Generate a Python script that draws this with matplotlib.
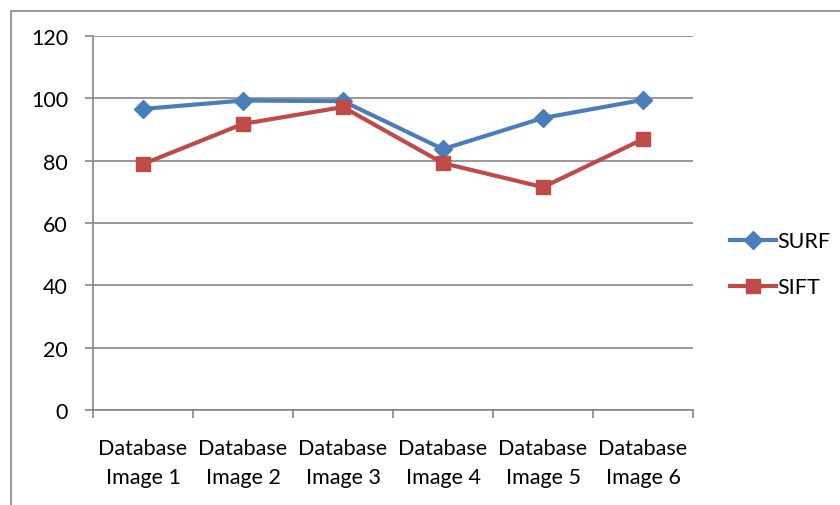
import matplotlib.pyplot as plt
from matplotlib.patches import Rectangle

categories = ['Database\nImage 1', 'Database\nImage 2', 'Database\nImage 3',
              'Database\nImage 4', 'Database\nImage 5', 'Database\nImage 6']
surf = [96.6, 99.3, 99.1, 83.7, 93.7, 99.5]
sift = [78.9, 91.8, 97.2, 79.2, 71.5, 86.9]

plt.rcParams['font.family'] = ['Lato', 'DejaVu Sans']

fig = plt.figure(figsize=(8.4, 5.06), dpi=100)
ax = fig.add_axes([93 / 840, 1 - 411 / 506, 600 / 840, 374 / 506])

# outer chart frame, runs off right and bottom edge
fig.patches.append(Rectangle((11 / 840, -0.1), 1.0, (506 - 12) / 506 + 0.1,
                             transform=fig.transFigure, fill=False,
                             edgecolor='#868686', linewidth=1.2))

x = list(range(len(categories)))
ax.plot(x, surf, color='#4A7EBB', linewidth=3, marker='D', markersize=9,
        label='SURF', zorder=3)
ax.plot(x, sift, color='#BE4B48', linewidth=3, marker='s', markersize=10,
        label='SIFT', zorder=3)

ax.set_xlim(-0.5, 5.5)
ax.set_ylim(0, 120)
ax.set_yticks(range(0, 121, 20))
ax.yaxis.grid(True, color='#868686', linewidth=1.2)
ax.set_axisbelow(True)

ax.set_xticks([i - 0.5 for i in range(7)], minor=False)
ax.set_xticklabels([])
ax.set_xticks(x, minor=True)
ax.set_xticklabels(categories, minor=True, fontsize=15.5, linespacing=1.6)
ax.tick_params(axis='x', which='minor', length=0, pad=20)
ax.tick_params(axis='x', which='major', length=6, color='#868686', width=1.2)
ax.tick_params(axis='y', length=6, color='#868686', width=1.2, labelsize=15.5,
               pad=12)

for s in ['top', 'right']:
    ax.spines[s].set_visible(False)
for s in ['left', 'bottom']:
    ax.spines[s].set_color('#868686')
    ax.spines[s].set_linewidth(1.2)

ax.legend(loc='center left', bbox_to_anchor=(1.03, 0.39), frameon=False,
          fontsize=15.5, handlelength=2.1, handletextpad=0.1,
          labelspacing=1.2)

fig.savefig('out.png', dpi=100)
